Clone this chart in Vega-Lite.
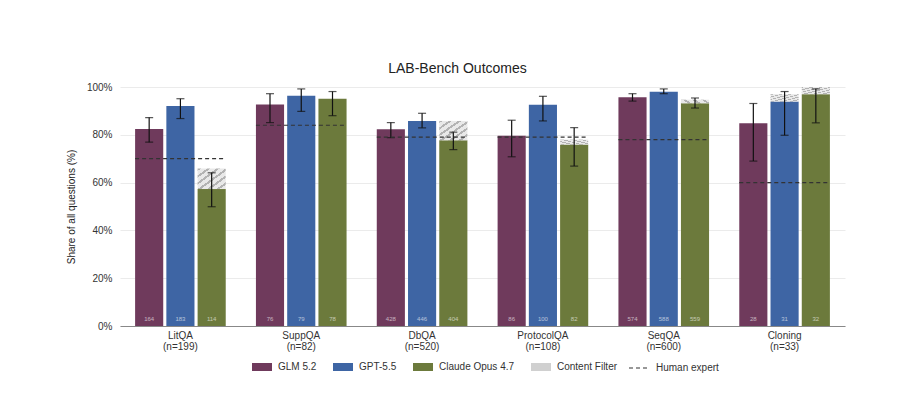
{
  "$schema": "https://vega.github.io/schema/vega-lite/v6.json",
  "width": 725,
  "height": 239,
  "autosize": {"type": "none"},
  "padding": {"left": 120, "top": 87, "right": 55, "bottom": 82},
  "background": "white",
  "title": {"text": "LAB-Bench Outcomes", "fontSize": 14, "fontWeight": "normal", "color": "#222", "font": "Liberation Sans", "offset": 6, "dx": -25},
  "config": {
    "font": "Liberation Sans",
    "view": {"stroke": null},
    "legend": {"orient": "none", "direction": "horizontal", "labelFontSize": 10, "labelColor": "#333", "columnPadding": 16, "labelOffset": 6}
  },
  "datasets": {
    "bars": [
      {"task": "LitQA (n=199)", "model": "GLM 5.2", "value": 0.824, "lo": 0.769, "hi": 0.872, "count": 164, "cf": null},
      {"task": "LitQA (n=199)", "model": "GPT-5.5", "value": 0.920, "lo": 0.868, "hi": 0.951, "count": 183, "cf": null},
      {"task": "LitQA (n=199)", "model": "Claude Opus 4.7", "value": 0.573, "lo": 0.499, "hi": 0.641, "count": 114, "cf": 0.659},
      {"task": "SuppQA (n=82)", "model": "GLM 5.2", "value": 0.927, "lo": 0.851, "hi": 0.972, "count": 76, "cf": null},
      {"task": "SuppQA (n=82)", "model": "GPT-5.5", "value": 0.963, "lo": 0.898, "hi": 0.992, "count": 79, "cf": null},
      {"task": "SuppQA (n=82)", "model": "Claude Opus 4.7", "value": 0.951, "lo": 0.880, "hi": 0.981, "count": 78, "cf": null},
      {"task": "DbQA (n=520)", "model": "GLM 5.2", "value": 0.823, "lo": 0.788, "hi": 0.851, "count": 428, "cf": null},
      {"task": "DbQA (n=520)", "model": "GPT-5.5", "value": 0.858, "lo": 0.829, "hi": 0.890, "count": 446, "cf": null},
      {"task": "DbQA (n=520)", "model": "Claude Opus 4.7", "value": 0.777, "lo": 0.738, "hi": 0.811, "count": 404, "cf": 0.858},
      {"task": "ProtocolQA (n=108)", "model": "GLM 5.2", "value": 0.796, "lo": 0.708, "hi": 0.861, "count": 86, "cf": null},
      {"task": "ProtocolQA (n=108)", "model": "GPT-5.5", "value": 0.926, "lo": 0.858, "hi": 0.961, "count": 100, "cf": null},
      {"task": "ProtocolQA (n=108)", "model": "Claude Opus 4.7", "value": 0.759, "lo": 0.669, "hi": 0.830, "count": 82, "cf": 0.780},
      {"task": "SeqQA (n=600)", "model": "GLM 5.2", "value": 0.957, "lo": 0.941, "hi": 0.972, "count": 574, "cf": null},
      {"task": "SeqQA (n=600)", "model": "GPT-5.5", "value": 0.980, "lo": 0.972, "hi": 0.992, "count": 588, "cf": null},
      {"task": "SeqQA (n=600)", "model": "Claude Opus 4.7", "value": 0.932, "lo": 0.912, "hi": 0.954, "count": 559, "cf": 0.947},
      {"task": "Cloning (n=33)", "model": "GLM 5.2", "value": 0.848, "lo": 0.690, "hi": 0.931, "count": 28, "cf": null},
      {"task": "Cloning (n=33)", "model": "GPT-5.5", "value": 0.939, "lo": 0.798, "hi": 0.981, "count": 31, "cf": 0.970},
      {"task": "Cloning (n=33)", "model": "Claude Opus 4.7", "value": 0.970, "lo": 0.850, "hi": 0.992, "count": 32, "cf": 1.0}
    ],
    "human": [
      {"task": "LitQA (n=199)", "human": 0.70},
      {"task": "SuppQA (n=82)", "human": 0.84},
      {"task": "DbQA (n=520)", "human": 0.79},
      {"task": "ProtocolQA (n=108)", "human": 0.79},
      {"task": "SeqQA (n=600)", "human": 0.78},
      {"task": "Cloning (n=33)", "human": 0.60}
    ]
  },
  "encoding": {
    "x": {
      "field": "task", "type": "nominal",
      "scale": {"domain": ["LitQA (n=199)", "SuppQA (n=82)", "DbQA (n=520)", "ProtocolQA (n=108)", "SeqQA (n=600)", "Cloning (n=33)"], "paddingInner": 0.25, "paddingOuter": 0.125},
      "axis": {"title": null, "labelAngle": 0, "labelExpr": "split(datum.label, ' ')", "labelFontSize": 10, "labelColor": "#333", "ticks": false, "domainColor": "#888", "labelPadding": 4, "labelLineHeight": 11}
    }
  },
  "layer": [
    {
      "data": {"name": "bars"},
      "mark": {"type": "bar"},
      "encoding": {
        "xOffset": {"field": "model", "type": "nominal", "scale": {"domain": ["GLM 5.2", "GPT-5.5", "Claude Opus 4.7"], "paddingInner": 0.1}},
        "y": {
          "field": "value", "type": "quantitative",
          "scale": {"domain": [0, 1], "nice": false},
          "axis": {"title": "Share of all questions (%)", "values": [0, 0.1, 0.2, 0.3, 0.4, 0.5, 0.6, 0.7, 0.8, 0.9, 1], "labelExpr": "round(datum.value * 10) % 2 == 0 ? format(datum.value, '.0%') : ''", "ticks": false, "domain": false, "gridColor": "#ebebeb", "labelFontSize": 10, "labelColor": "#333", "titleFontSize": 10, "titleFontWeight": "normal", "titleColor": "#222", "labelPadding": 8, "titlePadding": 10}
        },
        "color": {
          "field": "model", "type": "nominal",
          "scale": {
            "domain": ["GLM 5.2", "GPT-5.5", "Claude Opus 4.7", "Content Filter"],
            "range": ["#6f3a5c", "#3e65a4", "#6c7a3c", "#d0d0d0"]
          },
          "legend": {
            "title": null, "symbolType": "M-1,-0.4H1V0.4H-1Z", "symbolSize": 400, "symbolStrokeWidth": 0,
            "legendX": 132, "legendY": 270,
            "encode": {"symbols": {"update": {
              "fill": {"signal": "datum.label === 'Content Filter' ? {gradient: 'linear', x1: 0, y1: 0, x2: 1, y2: 1, stops: [{offset: 0, color: '#e6e6e6'}, {offset: 0.15, color: '#e6e6e6'}, {offset: 0.15, color: '#a8a8a8'}, {offset: 0.23, color: '#a8a8a8'}, {offset: 0.23, color: '#e6e6e6'}, {offset: 0.4, color: '#e6e6e6'}, {offset: 0.4, color: '#a8a8a8'}, {offset: 0.48, color: '#a8a8a8'}, {offset: 0.48, color: '#e6e6e6'}, {offset: 0.65, color: '#e6e6e6'}, {offset: 0.65, color: '#a8a8a8'}, {offset: 0.73, color: '#a8a8a8'}, {offset: 0.73, color: '#e6e6e6'}, {offset: 0.9, color: '#e6e6e6'}, {offset: 0.9, color: '#a8a8a8'}, {offset: 0.98, color: '#a8a8a8'}, {offset: 0.98, color: '#e6e6e6'}, {offset: 1, color: '#e6e6e6'}]} : scale('color', datum.value)"}}}}
          }
        }
      }
    },
    {
      "data": {"name": "bars"},
      "transform": [{"filter": "datum.cf != null"}],
      "mark": {"type": "bar", "color": {"gradient": "linear", "x1": 0, "y1": 0, "x2": 1, "y2": 1, "stops": [
        {"offset": 0, "color": "#b3b3b3"}, {"offset": 0.06, "color": "#b3b3b3"}, {"offset": 0.06, "color": "#e9e9e9"}, {"offset": 0.1667, "color": "#e9e9e9"},
        {"offset": 0.1667, "color": "#b3b3b3"}, {"offset": 0.2267, "color": "#b3b3b3"}, {"offset": 0.2267, "color": "#e9e9e9"}, {"offset": 0.3333, "color": "#e9e9e9"},
        {"offset": 0.3333, "color": "#b3b3b3"}, {"offset": 0.3933, "color": "#b3b3b3"}, {"offset": 0.3933, "color": "#e9e9e9"}, {"offset": 0.5, "color": "#e9e9e9"},
        {"offset": 0.5, "color": "#b3b3b3"}, {"offset": 0.56, "color": "#b3b3b3"}, {"offset": 0.56, "color": "#e9e9e9"}, {"offset": 0.6667, "color": "#e9e9e9"},
        {"offset": 0.6667, "color": "#b3b3b3"}, {"offset": 0.7267, "color": "#b3b3b3"}, {"offset": 0.7267, "color": "#e9e9e9"}, {"offset": 0.8333, "color": "#e9e9e9"},
        {"offset": 0.8333, "color": "#b3b3b3"}, {"offset": 0.8933, "color": "#b3b3b3"}, {"offset": 0.8933, "color": "#e9e9e9"}, {"offset": 1, "color": "#e9e9e9"}
      ]}},
      "encoding": {
        "xOffset": {"field": "model", "type": "nominal"},
        "y": {"field": "value", "type": "quantitative"},
        "y2": {"field": "cf"}
      }
    },
    {
      "data": {"name": "bars"},
      "mark": {"type": "rule", "color": "#111", "strokeWidth": 1.2},
      "encoding": {
        "xOffset": {"field": "model", "type": "nominal"},
        "y": {"field": "lo", "type": "quantitative"},
        "y2": {"field": "hi"}
      }
    },
    {
      "data": {"name": "bars"},
      "mark": {"type": "tick", "color": "#111", "size": 8, "thickness": 1.2, "orient": "horizontal"},
      "encoding": {
        "xOffset": {"field": "model", "type": "nominal"},
        "y": {"field": "lo", "type": "quantitative"}
      }
    },
    {
      "data": {"name": "bars"},
      "mark": {"type": "tick", "color": "#111", "size": 8, "thickness": 1.2, "orient": "horizontal"},
      "encoding": {
        "xOffset": {"field": "model", "type": "nominal"},
        "y": {"field": "hi", "type": "quantitative"}
      }
    },
    {
      "data": {"name": "bars"},
      "mark": {"type": "text", "fontSize": 6, "fill": "white", "opacity": 0.6, "baseline": "bottom", "dy": -4},
      "encoding": {
        "xOffset": {"field": "model", "type": "nominal"},
        "y": {"datum": 0, "type": "quantitative"},
        "text": {"field": "count", "type": "quantitative"}
      }
    },
    {
      "data": {"name": "human"},
      "mark": {"type": "rule", "color": "#333", "strokeWidth": 1.2},
      "encoding": {
        "x": {"field": "task", "type": "nominal", "bandPosition": 0},
        "x2": {"field": "task", "bandPosition": 1},
        "y": {"field": "human", "type": "quantitative"},
        "strokeDash": {"datum": "Human expert", "type": "nominal", "scale": {"range": [[4, 3]]}, "legend": {"title": null, "symbolType": "stroke", "symbolSize": 400, "symbolStrokeColor": "#333", "symbolStrokeWidth": 1.2, "legendX": 508, "legendY": 270}}
      }
    }
  ]
}
